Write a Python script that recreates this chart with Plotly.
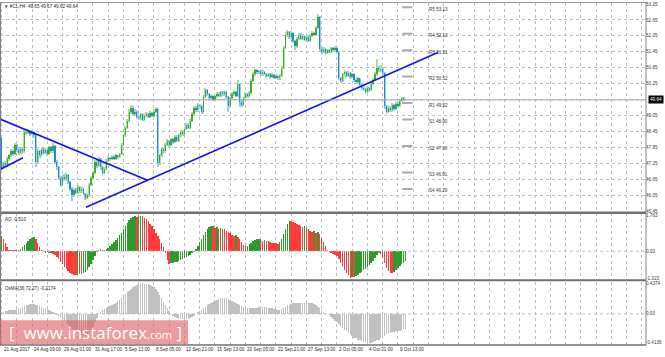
import plotly.graph_objects as go

# ---------------- data ----------------
first_open = 48.21
close = [47.09, 47.25, 47.20, 47.40, 47.55, 47.70, 47.60, 47.95, 47.75, 47.65,
         47.80, 47.70, 48.45, 48.40, 48.48, 48.35, 48.42, 48.30, 47.30, 47.70,
         47.55, 47.80, 47.65, 47.75, 47.60, 47.85, 47.70, 47.90, 47.30, 47.10,
         46.70, 46.45, 46.75, 46.65, 46.80, 46.55, 46.30, 46.05, 46.25, 46.15,
         46.35, 46.20, 46.30, 46.10, 45.95, 46.05, 46.45, 46.70, 46.90, 47.30,
         47.15, 47.40, 47.10, 46.90, 47.05, 47.35, 47.45, 47.40, 47.50, 47.42,
         47.55, 47.48, 47.60, 47.95, 48.30, 48.60, 48.85, 49.20, 49.35, 49.10,
         49.20, 49.00, 48.95, 49.10, 48.90, 49.05, 49.12, 49.00, 49.15, 49.05,
         49.20, 49.30, 47.25, 47.55, 47.80, 47.70, 47.95, 48.10, 47.95, 48.15,
         48.05, 48.25, 48.10, 48.30, 48.45, 48.35, 48.55, 48.70, 48.60, 48.85,
         49.10, 49.35, 49.25, 49.45, 49.40, 49.20, 49.75, 50.00, 49.85, 49.70,
         49.80, 49.65, 49.78, 49.88, 49.80, 49.92, 49.85, 49.95, 49.75, 49.40,
         49.70, 49.85, 49.95, 49.80, 50.25, 49.55, 49.45, 49.70, 49.85, 49.78,
         49.90, 50.35, 50.60, 50.75, 50.68, 50.72, 50.60, 50.70, 50.62, 50.55,
         50.60, 50.50, 50.58, 50.48, 50.55, 50.45, 50.55, 50.85, 51.60, 52.10,
         52.20, 52.00, 52.15, 51.85, 51.65, 51.95, 52.10, 51.95, 52.05, 51.90,
         52.00, 51.85, 52.05, 52.15, 52.10, 52.35, 52.75, 51.55, 51.45, 51.55,
         51.40, 51.50, 51.45, 51.58, 51.50, 51.60, 51.45, 50.45, 50.35, 50.60,
         50.70, 50.55, 50.65, 50.50, 50.60, 50.40, 50.30, 50.45, 50.20, 50.10,
         50.05, 49.95, 50.10, 50.00, 50.25, 50.40, 50.60, 50.85, 50.75, 50.80,
         50.65, 49.40, 49.20, 49.35, 49.25, 49.45, 49.30, 49.50, 49.40, 49.60,
         49.70, 49.65, 49.64]
high = [48.28, 47.32, 47.35, 47.48, 47.62, 47.78, 47.80, 48.02, 47.98, 47.82,
        47.86, 47.88, 48.52, 48.55, 48.56, 48.52, 48.50, 48.46, 48.34, 47.78,
        47.74, 47.86, 47.84, 47.82, 47.79, 47.92, 47.90, 48.02, 47.94, 47.36,
        47.15, 46.76, 46.82, 46.86, 46.88, 46.84, 46.60, 46.35, 46.32, 46.34,
        46.42, 46.40, 46.38, 46.34, 46.14, 46.12, 46.52, 46.78, 46.98, 47.38,
        47.36, 47.48, 47.44, 47.14, 47.12, 47.42, 47.52, 47.50, 47.56, 47.55,
        47.60, 47.58, 47.66, 48.02, 48.36, 48.66, 48.92, 49.28, 49.45, 49.40,
        49.28, 49.25, 49.06, 49.16, 49.14, 49.12, 49.20, 49.16, 49.22, 49.20,
        49.28, 49.38, 49.34, 47.62, 47.88, 47.86, 48.02, 48.18, 48.14, 48.22,
        48.20, 48.32, 48.30, 48.36, 48.52, 48.50, 48.62, 48.78, 48.76, 48.92,
        49.18, 49.42, 49.40, 49.52, 49.50, 49.44, 49.82, 50.08, 50.04, 49.90,
        49.86, 49.84, 49.84, 49.95, 49.92, 49.98, 49.96, 50.02, 49.98, 49.78,
        49.76, 49.92, 50.02, 49.98, 50.38, 50.28, 49.62, 49.76, 49.92, 49.90,
        49.96, 50.42, 50.68, 50.82, 50.80, 50.78, 50.76, 50.76, 50.74, 50.66,
        50.66, 50.64, 50.64, 50.62, 50.60, 50.58, 50.62, 50.92, 51.68, 52.18,
        52.28, 52.24, 52.22, 52.18, 51.90, 52.02, 52.16, 52.14, 52.12, 52.08,
        52.06, 52.04, 52.12, 52.22, 52.20, 52.42, 52.86, 52.78, 51.62, 51.62,
        51.60, 51.56, 51.56, 51.64, 51.62, 51.66, 51.64, 51.48, 50.52, 50.66,
        50.76, 50.74, 50.72, 50.68, 50.66, 50.64, 50.45, 50.52, 50.48, 50.26,
        50.16, 50.10, 50.16, 50.14, 50.32, 50.46, 50.68, 51.18, 50.92, 50.95,
        50.86, 50.70, 49.46, 49.42, 49.40, 49.52, 49.50, 49.56, 49.55, 49.66,
        49.76, 49.74, 49.67]
low = [47.02, 47.04, 47.12, 47.16, 47.35, 47.50, 47.52, 47.56, 47.68, 47.58,
       47.60, 47.64, 47.66, 48.30, 48.34, 48.28, 48.30, 48.22, 47.13, 47.25,
       47.46, 47.50, 47.58, 47.60, 47.52, 47.56, 47.64, 47.66, 47.22, 47.02,
       46.62, 46.36, 46.40, 46.58, 46.60, 46.48, 46.22, 45.84, 46.00, 46.08,
       46.10, 46.14, 46.15, 46.02, 45.86, 45.90, 46.00, 46.40, 46.64, 46.86,
       47.08, 47.10, 47.02, 46.78, 46.85, 47.00, 47.30, 47.34, 47.36, 47.36,
       47.38, 47.42, 47.44, 47.56, 47.90, 48.25, 48.55, 48.80, 49.12, 49.02,
       49.04, 48.92, 48.88, 48.90, 48.84, 48.86, 49.00, 48.94, 48.96, 48.98,
       49.00, 49.14, 47.10, 47.18, 47.50, 47.62, 47.66, 47.90, 47.88, 47.90,
       47.98, 48.00, 48.04, 48.05, 48.25, 48.28, 48.30, 48.50, 48.54, 48.55,
       48.80, 49.05, 49.18, 49.20, 49.30, 49.12, 49.15, 49.70, 49.78, 49.62,
       49.64, 49.58, 49.60, 49.72, 49.74, 49.76, 49.78, 49.80, 49.68, 49.20,
       49.35, 49.64, 49.80, 49.74, 49.76, 49.38, 49.38, 49.40, 49.64, 49.72,
       49.72, 49.85, 50.30, 50.55, 50.60, 50.62, 50.54, 50.55, 50.56, 50.48,
       50.50, 50.44, 50.45, 50.42, 50.43, 50.40, 50.40, 50.50, 50.80, 51.55,
       52.02, 51.92, 51.95, 51.78, 51.50, 51.60, 51.90, 51.88, 51.90, 51.84,
       51.85, 51.80, 51.80, 52.00, 52.04, 52.06, 52.30, 51.48, 51.38, 51.40,
       51.34, 51.36, 51.40, 51.40, 51.44, 51.46, 51.40, 50.38, 50.28, 50.30,
       50.55, 50.48, 50.50, 50.44, 50.45, 50.32, 50.22, 50.25, 50.12, 50.02,
       49.96, 49.86, 49.90, 49.92, 49.96, 50.20, 50.35, 50.55, 50.68, 50.70,
       50.58, 49.30, 49.10, 49.15, 49.18, 49.20, 49.22, 49.26, 49.34, 49.36,
       49.55, 49.60, 49.62]

ao_values = [0.75, 0.58, 0.40, 0.22, 0.08, 0.05, 0.07, 0.06, 0.04, 0.06,
             0.12, 0.22, 0.32, 0.42, 0.52, 0.60, 0.66, 0.70, 0.58, 0.40,
             0.20, 0.06, -0.04, -0.08, -0.06, -0.10, -0.08, -0.12, -0.20, -0.30,
             -0.40, -0.52, -0.65, -0.78, -0.90, -1.00, -1.08, -1.14, -1.18, -1.20,
             -1.16, -1.12, -1.15, -1.10, -1.05, -0.95, -0.80, -0.62, -0.42, -0.22,
             -0.05, 0.05, 0.10, 0.08, 0.05, 0.10, 0.15, 0.25, 0.35, 0.45,
             0.55, 0.65, 0.78, 0.92, 1.08, 1.25, 1.40, 1.52, 1.62, 1.68,
             1.72, 1.70, 1.74, 1.763, 1.72, 1.66, 1.58, 1.48, 1.36, 1.22,
             1.08, 0.92, 0.76, 0.58, 0.40, 0.20, -0.10, -0.45, -0.62, -0.60,
             -0.58, -0.55, -0.52, -0.48, -0.44, -0.40, -0.35, -0.30, -0.24, -0.18,
             -0.10, -0.02, 0.10, 0.28, 0.45, 0.62, 0.80, 0.95, 1.08, 1.18,
             1.25, 1.22, 1.16, 1.18, 1.12, 1.14, 1.10, 1.08, 1.00, 0.95,
             0.88, 0.82, 0.75, 0.78, 0.70, 0.60, 0.45, 0.32, 0.25, 0.28,
             0.35, 0.42, 0.50, 0.56, 0.60, 0.62, 0.58, 0.52, 0.54, 0.50,
             0.48, 0.45, 0.42, 0.40, 0.38, 0.36, 0.44, 0.60, 0.85, 1.10,
             1.35, 1.50, 1.47, 1.44, 1.40, 1.36, 1.30, 1.25, 1.20, 1.22,
             1.15, 1.08, 1.02, 0.95, 0.98, 0.92, 0.94, 0.85, 0.65, 0.45,
             0.25, 0.05, -0.05, -0.10, -0.14, -0.18, -0.25, -0.40, -0.58, -0.75,
             -0.92, -1.08, -1.20, -1.323, -1.28, -1.30, -1.25, -1.18, -1.10, -1.02,
             -0.94, -0.86, -0.78, -0.70, -0.60, -0.48, -0.35, -0.20, -0.08, -0.12,
             -0.35, -0.60, -0.82, -0.98, -1.06, -1.10, -1.02, -0.92, -0.82, -0.72,
             -0.64, -0.56, -0.51]

osma_values = [0.03, 0.03, 0.04, 0.04, 0.05, 0.05, 0.06, 0.06, 0.07, 0.08,
               0.09, 0.10, 0.11, 0.12, 0.13, 0.14, 0.14, 0.14, 0.13, 0.12,
               0.11, 0.10, 0.09, 0.08, 0.07, 0.05, 0.04, 0.03, 0.01, -0.01,
               -0.03, -0.05, -0.08, -0.10, -0.13, -0.15, -0.18, -0.21, -0.23, -0.26,
               -0.28, -0.30, -0.31, -0.32, -0.32, -0.31, -0.28, -0.24, -0.19, -0.12,
               -0.06, 0.00, 0.03, 0.05, 0.07, 0.08, 0.10, 0.11, 0.12, 0.14,
               0.16, 0.18, 0.20, 0.22, 0.25, 0.28, 0.31, 0.33, 0.35, 0.38,
               0.40, 0.41, 0.42, 0.43, 0.4374, 0.43, 0.43, 0.42, 0.41, 0.40,
               0.38, 0.35, 0.31, 0.27, 0.22, 0.17, 0.12, 0.08, 0.04, 0.00,
               -0.03, -0.05, -0.06, -0.07, -0.08, -0.08, -0.08, -0.08, -0.07, -0.06,
               -0.05, -0.03, 0.00, 0.02, 0.04, 0.06, 0.08, 0.10, 0.12, 0.14,
               0.16, 0.17, 0.19, 0.20, 0.21, 0.22, 0.22, 0.22, 0.22, 0.21,
               0.20, 0.19, 0.17, 0.16, 0.14, 0.12, 0.11, 0.10, 0.09, 0.09,
               0.08, 0.08, 0.08, 0.09, 0.09, 0.10, 0.10, 0.10, 0.10, 0.10,
               0.09, 0.09, 0.08, 0.07, 0.07, 0.06, 0.06, 0.07, 0.08, 0.10,
               0.12, 0.13, 0.14, 0.15, 0.15, 0.16, 0.16, 0.16, 0.16, 0.16,
               0.16, 0.16, 0.15, 0.15, 0.14, 0.12, 0.10, 0.08, 0.06, 0.03,
               0.01, 0.00, -0.02, -0.05, -0.07, -0.10, -0.12, -0.15, -0.18, -0.20,
               -0.23, -0.25, -0.28, -0.30, -0.32, -0.34, -0.35, -0.37, -0.38, -0.39,
               -0.40, -0.40, -0.41, -0.4136, -0.41, -0.40, -0.39, -0.38, -0.37, -0.35,
               -0.33, -0.31, -0.29, -0.28, -0.27, -0.26, -0.26, -0.25, -0.25, -0.24,
               -0.23, -0.22, -0.2174]

x_tick_labels = ["21 Aug 2017", "24 Aug 09:00", "29 Aug 01:00", "31 Aug 17:00",
                 "5 Sep 13:00", "8 Sep 05:00", "12 Sep 21:00", "15 Sep 13:00",
                 "20 Sep 05:00", "22 Sep 21:00", "27 Sep 13:00", "2 Oct 05:00",
                 "4 Oct 21:00", "9 Oct 13:00"]
x_tick_bars = [0, 16, 32, 48, 64, 80, 96, 112, 128, 144, 160, 176, 192, 208]

price_ticks = [53.25, 52.65, 52.05, 51.45, 50.85, 50.25, 49.65, 49.05,
               48.45, 47.85, 47.25, 46.65, 46.05, 45.45]
price_tick_text = ["53.25", "52.65", "52.05", "51.45", "50.85", "50.25", "",
                   "49.05", "48.45", "47.85", "47.25", "46.65", "46.05", "45.45"]

pivot_names = ["R5", "R4", "R3", "R2", "R1", "S1", "S2", "S3", "S4"]
pivot_levels = [53.13, 52.13, 51.51, 50.52, 49.52, 48.90, 47.90, 46.91, 46.29]

trend_lines = [[(-0.79, 48.92), (76.9, 46.61)],
               [(-0.79, 47.02), (11.3, 47.46)],
               [(44.3, 45.60), (229.0, 51.42)]]

last_price = 49.64
title_text = "#CL,H4  49.65 49.67 49.62 49.64"
ao_label = "AO -0.510"
osma_label = "OsMA(36,72,27) -0.2174"

# ---------------- build ----------------
W, H = 665, 357
n = len(close)
idx = list(range(n))
opens = [first_open] + close[:-1]
hi = [max(h, o, c) for h, o, c in zip(high, opens, close)]
lo = [min(l, o, c) for l, o, c in zip(low, opens, close)]
up = [c >= o for o, c in zip(opens, close)]

BULL, BULL_W = "#3FAE2A", "#A6DC9C"
BEAR, BEAR_W = "#1C8AD6", "#9CCBEE"

def py(px):  # pixel row -> paper y
    return 1 - px / H

XR = 646 / W
FS = 4.6
FAM = "Liberation Sans, Arial, sans-serif"
fig = go.Figure()

# wicks
fig.add_trace(go.Bar(x=idx, y=[h - l for h, l in zip(hi, lo)], base=lo, width=1.0,
                     marker=dict(color=[BULL_W if u else BEAR_W for u in up], line_width=0),
                     xaxis="x", yaxis="y", hoverinfo="skip"))
# bodies
fig.add_trace(go.Bar(x=idx, y=[max(abs(c - o), 0.02) for o, c in zip(opens, close)],
                     base=[min(o, c) for o, c in zip(opens, close)], width=0.7,
                     marker=dict(color=[BULL if u else BEAR for u in up], line_width=0),
                     xaxis="x", yaxis="y", hoverinfo="skip"))

# trend lines
for (p0, p1) in trend_lines:
    fig.add_trace(go.Scatter(x=[p0[0], p1[0]], y=[p0[1], p1[1]], mode="lines",
                             line=dict(color="#1414E6", width=1.6),
                             xaxis="x", yaxis="y", hoverinfo="skip"))

# pivot segments
for lvl in pivot_levels:
    fig.add_trace(go.Scatter(x=[210.3, 215.6], y=[lvl, lvl], mode="lines",
                             line=dict(color="#A9A9A9", width=2),
                             xaxis="x", yaxis="y", hoverinfo="skip"))

# AO
ao_cols = ["#2E9B2E" if i == 0 or ao_values[i] >= ao_values[i - 1] else "#FF3B3B"
           for i in range(n)]
fig.add_trace(go.Bar(x=idx, y=ao_values, width=0.78,
                     marker=dict(color=ao_cols, line_width=0),
                     xaxis="x2", yaxis="y2", hoverinfo="skip"))
# OsMA
fig.add_trace(go.Bar(x=idx, y=osma_values, width=0.78,
                     marker=dict(color="#C0C0C0", line_width=0),
                     xaxis="x3", yaxis="y3", hoverinfo="skip"))

grid_bars = list(range(0, 340, 8))
xr = [-0.79, 338.2]
gridc = "#B9C0CC"
axx = dict(range=xr, showticklabels=False, tickvals=grid_bars, showgrid=True,
           gridcolor=gridc, griddash="dot", gridwidth=1, zeroline=False,
           ticks="", showline=False, domain=[0, XR])
tfont = dict(family=FAM, size=FS, color="#3A3A3A")

fig.update_layout(
    width=W, height=H, margin=dict(l=0, r=0, t=0, b=0),
    paper_bgcolor="white", plot_bgcolor="white", showlegend=False,
    barmode="overlay", bargap=0,
    xaxis=dict(**axx, anchor="y"),
    xaxis2=dict(**axx, anchor="y2", matches="x"),
    xaxis3=dict(**axx, anchor="y3", matches="x"),
    yaxis=dict(domain=[py(213), py(2)], range=[45.413, 53.287], side="right",
               anchor="x", tickvals=price_ticks, ticktext=price_tick_text,
               showgrid=True, gridcolor=gridc, griddash="dot", zeroline=False,
               ticks="", tickfont=tfont, showline=False, ticklabelstandoff=-1),
    yaxis2=dict(domain=[py(281), py(214)], range=[-1.407, 1.877], side="right",
                anchor="x2", tickvals=[1.763, 0, -1.323],
                ticktext=["1.763", "0.00", "-1.323"], showgrid=False,
                zeroline=False, ticks="", tickfont=tfont, showline=False,
                ticklabelstandoff=-1),
    yaxis3=dict(domain=[py(347), py(283)], range=[-0.447, 0.461], side="right",
                anchor="x3", tickvals=[0.4374, 0, -0.4136],
                ticktext=["0.4374", "0.00", "-0.4136"], showgrid=False,
                zeroline=False, ticks="", tickfont=tfont, showline=False,
                ticklabelstandoff=-1),
)

shapes = []
# zero lines
shapes.append(dict(type="line", xref="x2 domain", x0=0, x1=1, yref="y2", y0=0, y1=0,
                   line=dict(color=gridc, width=1, dash="dot")))
shapes.append(dict(type="line", xref="x3 domain", x0=0, x1=1, yref="y3", y0=0, y1=0,
                   line=dict(color=gridc, width=1, dash="dot")))
# current price line
shapes.append(dict(type="line", xref="x domain", x0=0, x1=1, yref="y", y0=last_price,
                   y1=last_price, line=dict(color="#A8A8A8", width=1)))
# borders
bc = "#808080"
shapes.append(dict(type="line", xref="paper", yref="paper", x0=0, x1=XR,
                   y0=py(1.5), y1=py(1.5), line=dict(color="#9A9A9A", width=1)))
shapes.append(dict(type="line", xref="paper", yref="paper", x0=0, x1=XR,
                   y0=py(213.5), y1=py(213.5), line=dict(color="#707070", width=2.5)))
shapes.append(dict(type="line", xref="paper", yref="paper", x0=0, x1=XR,
                   y0=py(281.5), y1=py(281.5), line=dict(color="#707070", width=2)))
shapes.append(dict(type="line", xref="paper", yref="paper", x0=0, x1=XR,
                   y0=py(347), y1=py(347), line=dict(color="#707070", width=1.5)))
shapes.append(dict(type="line", xref="paper", yref="paper", x0=XR, x1=XR,
                   y0=py(347), y1=py(1.5), line=dict(color=bc, width=1)))
shapes.append(dict(type="line", xref="paper", yref="paper", x0=0.5 / W, x1=0.5 / W,
                   y0=py(347), y1=py(1.5), line=dict(color=bc, width=1)))
# watermark box
shapes.append(dict(type="rect", xref="paper", yref="paper", x0=0, x1=188 / W,
                   y0=py(346), y1=py(322), fillcolor="rgba(224,96,96,0.62)",
                   line=dict(width=0), layer="above"))
fig.update_layout(shapes=shapes)

txt = dict(family=FAM, size=FS, color="#2A2A2A")
ann = []
ann.append(dict(xref="paper", yref="paper", x=2 / W, y=py(5.5), xanchor="left",
                yanchor="middle", showarrow=False, text="▼ " + title_text, font=txt))
ann.append(dict(xref="paper", yref="paper", x=3 / W, y=py(220), xanchor="left",
                yanchor="middle", showarrow=False, text=ao_label, font=txt))
ann.append(dict(xref="paper", yref="paper", x=3 / W, y=py(289.5), xanchor="left",
                yanchor="middle", showarrow=False, text=osma_label, font=txt))
for b, t in zip(x_tick_bars, x_tick_labels):
    ann.append(dict(xref="x3", yref="paper", x=b, y=py(351.5), xanchor="left",
                    yanchor="middle", showarrow=False, text=t, font=txt))
for nm, lvl in zip(pivot_names, pivot_levels):
    ann.append(dict(xref="x", yref="y", x=223.5, y=lvl, yshift=-2, xanchor="left",
                    yanchor="middle", showarrow=False, text=f"{nm} {lvl:.2f}",
                    font=dict(family=FAM, size=FS, color="#3A3A3A")))
ann.append(dict(xref="paper", yref="y", x=647.5 / W, y=last_price, xanchor="left",
                yanchor="middle", showarrow=False, text=f"{last_price:.2f}",
                bgcolor="#000000", borderpad=1,
                font=dict(family=FAM, size=FS, color="#FFFFFF")))
ann.append(dict(xref="paper", yref="paper", x=95 / W, y=py(334), xanchor="center",
                yanchor="middle", showarrow=False,
                text="[ &nbsp;www.instaforex<span style='font-size:11px'>.com</span> ]",
                font=dict(family="Open Sans, Liberation Sans, Arial", size=17, color="#FFFFFF")))
fig.update_layout(annotations=ann)

fig.write_html("out.html",
               config={"displayModeBar": False, "staticPlot": True},
               post_script="document.body.style.margin='0';"
                           "document.body.style.padding='0';"
                           "document.body.style.overflow='hidden';")
